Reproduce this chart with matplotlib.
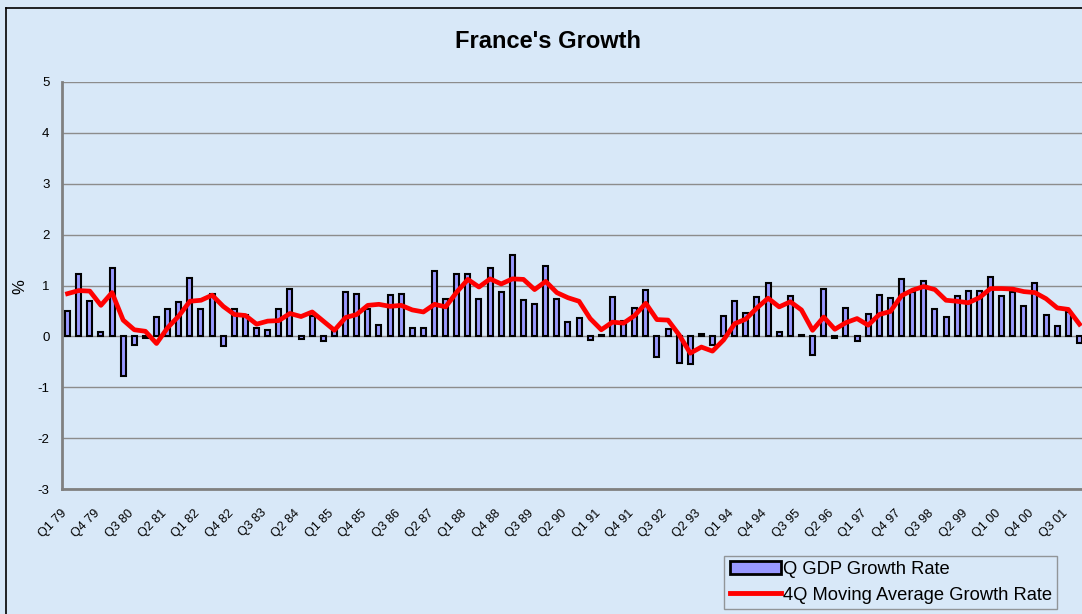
import matplotlib.pyplot as plt
import matplotlib.transforms as mtransforms
from matplotlib.lines import Line2D
from matplotlib.patches import Patch

# quarterly GDP growth, Q1 79 .. Q4 01
gdp_growth = [
    0.50, 1.22, 0.69, 0.09, 1.35, -0.78, -0.16, -0.03, 0.38, 0.53,
    0.68, 1.14, 0.53, 0.84, -0.18, 0.53, 0.42, 0.17, 0.12, 0.54,
    0.93, -0.05, 0.41, -0.09, 0.12, 0.87, 0.84, 0.53, 0.22, 0.81,
    0.84, 0.16, 0.16, 1.28, 0.74, 1.22, 1.22, 0.73, 1.35, 0.87,
    1.59, 0.71, 0.63, 1.39, 0.74, 0.28, 0.37, -0.07, 0.02, 0.78,
    0.30, 0.56, 0.92, -0.40, 0.14, -0.52, -0.55, 0.04, -0.16, 0.41,
    0.69, 0.45, 0.78, 1.04, 0.08, 0.80, 0.02, -0.37, 0.93, -0.04,
    0.56, -0.09, 0.44, 0.82, 0.76, 1.13, 0.88, 1.08, 0.53, 0.38,
    0.79, 0.89, 0.90, 1.17, 0.80, 0.87, 0.59, 1.05, 0.42, 0.20,
    0.47, -0.14,
]
moving_avg = [
    0.84, 0.90, 0.89, 0.61, 0.86, 0.32, 0.13, 0.10, -0.14, 0.17,
    0.40, 0.69, 0.71, 0.81, 0.59, 0.43, 0.41, 0.24, 0.30, 0.31,
    0.45, 0.39, 0.48, 0.30, 0.12, 0.37, 0.43, 0.61, 0.63, 0.59,
    0.61, 0.52, 0.48, 0.63, 0.58, 0.87, 1.12, 0.97, 1.13, 1.03,
    1.13, 1.12, 0.92, 1.08, 0.86, 0.76, 0.69, 0.35, 0.13, 0.28,
    0.26, 0.41, 0.65, 0.33, 0.32, 0.03, -0.33, -0.21, -0.29, -0.07,
    0.25, 0.34, 0.56, 0.75, 0.58, 0.68, 0.52, 0.12, 0.38, 0.14,
    0.27, 0.35, 0.22, 0.43, 0.49, 0.80, 0.91, 0.98, 0.92, 0.71,
    0.69, 0.66, 0.76, 0.94, 0.94, 0.93, 0.88, 0.86, 0.74, 0.56,
    0.53, 0.24,
]
tick_labels = [
    'Q1 79', 'Q4 79', 'Q3 80', 'Q2 81', 'Q1 82', 'Q4 82', 'Q3 83', 'Q2 84',
    'Q1 85', 'Q4 85', 'Q3 86', 'Q2 87', 'Q1 88', 'Q4 88', 'Q3 89', 'Q2 90',
    'Q1 91', 'Q4 91', 'Q3 92', 'Q2 93', 'Q1 94', 'Q4 94', 'Q3 95', 'Q2 96',
    'Q1 97', 'Q4 97', 'Q3 98', 'Q2 99', 'Q1 00', 'Q4 00', 'Q3 01',
]

W, H = 1082, 614
bg = '#d8e8f8'
plt.rcParams['font.family'] = ['Liberation Sans', 'DejaVu Sans']
plt.rcParams['axes.unicode_minus'] = False

fig = plt.figure(figsize=(W / 100, H / 100), dpi=100, facecolor=bg)
# outer frame of the chart object
fig.add_artist(Line2D([6 / W, 6 / W], [0, 1 - 8 / H], color='black', lw=1.2))
fig.add_artist(Line2D([6 / W, 1], [1 - 8 / H, 1 - 8 / H], color='black', lw=1.2))

ax = fig.add_axes([62 / W, (H - 489) / H, (1085 - 62) / W, (489 - 82) / H])
ax.set_facecolor('none')

x = list(range(len(gdp_growth)))
ax.bar(x, gdp_growth, width=0.45, color='#9999ff', edgecolor='black',
       linewidth=1.5, zorder=3)
ax.plot(x, moving_avg, color='red', lw=3.4, zorder=4)

ax.set_xlim(-0.5, len(x) - 0.5)
ax.set_ylim(-3, 5)
ax.set_yticks(range(-3, 6))
ax.yaxis.grid(True, color='#8c8c8c', lw=1)
ax.set_axisbelow(True)
for side in ('top', 'right'):
    ax.spines[side].set_visible(False)
for side in ('left', 'bottom'):
    ax.spines[side].set_color('#808080')
    ax.spines[side].set_linewidth(2)
ax.tick_params(axis='y', length=0, pad=9, labelsize=9.5)
ax.set_xticks(x[::3])
ax.set_xticklabels(tick_labels, rotation=45, ha='right', va='top',
                   rotation_mode='anchor', fontsize=9)
ax.tick_params(axis='x', length=0, pad=13)
shift = mtransforms.ScaledTranslation(-7 / 100, 0, fig.dpi_scale_trans)
for lbl in ax.get_xticklabels():
    lbl.set_transform(lbl.get_transform() + shift)

fig.text(20 / W, 1 - 287 / H, '%', rotation=90, ha='center', va='center',
         fontsize=12)
fig.text(548 / W, 1 - 42 / H, "France's Growth", ha='center', va='center',
         fontsize=17, fontweight='bold')

handles = [Patch(facecolor='#9999ff', edgecolor='black', lw=2),
           Line2D([], [], color='red', lw=3.5)]
leg = fig.legend(handles, ['Q GDP Growth Rate', '4Q Moving Average Growth Rate'],
                 loc='lower left', bbox_to_anchor=(724 / W, 5 / H),
                 frameon=True, fancybox=False, fontsize=13.2,
                 handlelength=2.8, handletextpad=0.1, borderpad=0.3,
                 borderaxespad=0, labelspacing=0.45)
leg.get_frame().set_edgecolor('#808080')
leg.get_frame().set_facecolor(bg)

fig.savefig('out.png', dpi=100, facecolor=bg)
